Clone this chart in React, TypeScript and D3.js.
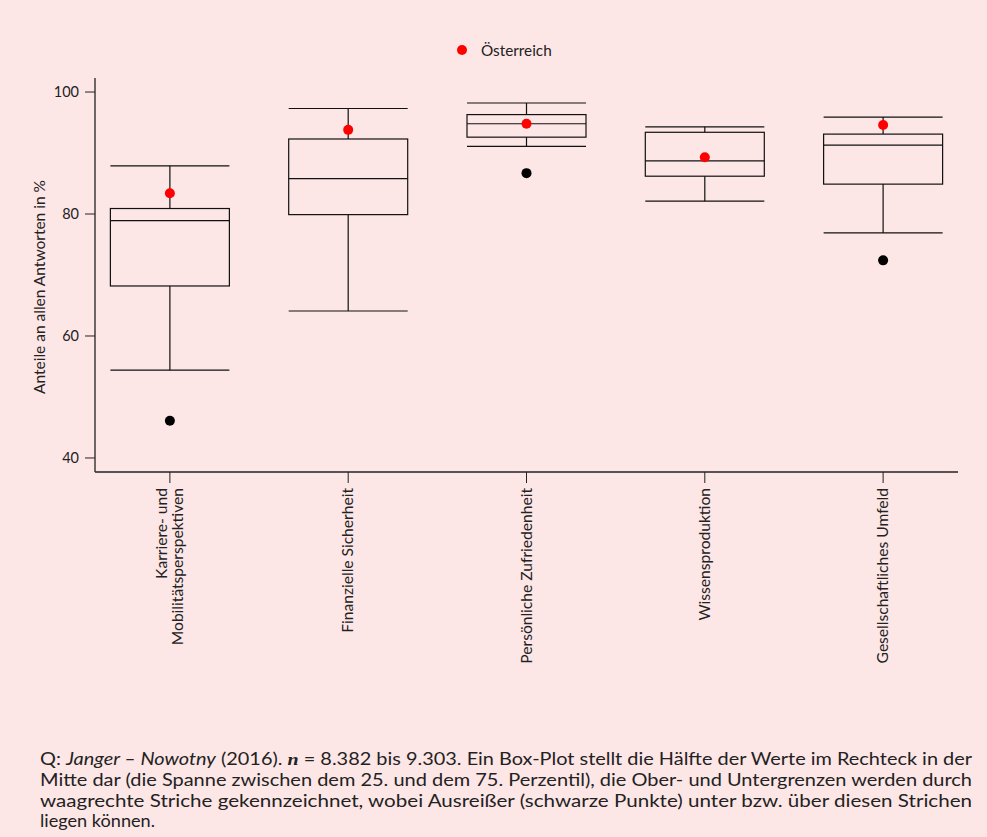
import React from "react";
import * as d3 from "d3";

// Categories (line breaks split multi-line axis labels)
const categories = [
  "Karriere- und\nMobilitätsperspektiven",
  "Finanzielle Sicherheit",
  "Persönliche Zufriedenheit",
  "Wissensproduktion",
  "Gesellschaftliches Umfeld",
];

// Box-plot statistics per category (share in %)
const lowerWhisker = [54.4, 64.1, 91.1, 82.1, 76.9];
const q1 = [68.2, 79.9, 92.6, 86.2, 84.9];
const median = [78.9, 85.8, 94.8, 88.7, 91.3];
const q3 = [80.9, 92.3, 96.3, 93.4, 93.1];
const upperWhisker = [87.9, 97.3, 98.2, 94.3, 95.9];

// Outliers (category index, value)
const outlierCat = [0, 2, 4];
const outlierVal = [46.1, 86.7, 72.4];

// Austria values
const austria = [83.4, 93.8, 94.8, 89.3, 94.6];

const yTicks = [40, 60, 80, 100];

const W = 987;
const H = 837;
const BG = "#fde6e6";
const INK = "#222";
const FONT = "Lato, 'DejaVu Sans', sans-serif";

const footLines = [
  null, // first line is built with mixed styles below
  "Mitte dar (die Spanne zwischen dem 25. und dem 75. Perzentil), die Ober- und Untergrenzen werden durch",
  "waagrechte Striche gekennzeichnet, wobei Ausreißer (schwarze Punkte) unter bzw. über diesen Strichen",
  "liegen können.",
];

export default function App() {
  const x = d3.scalePoint<string>().domain(categories).range([95, 958]).padding(0.42);
  const y = d3.scaleLinear().domain([37.7, 102.3]).range([472, 78]);
  const half = 59.5;

  return (
    <svg
      width={W}
      height={H}
      style={{ position: "absolute", left: 0, top: 0, background: BG }}
      fontFamily={FONT}
    >
      <rect x={0} y={0} width={W} height={H} fill={BG} />

      {/* legend */}
      <circle cx={462} cy={50} r={5} fill="#ff0000" />
      <text x={481} y={55.5} fontSize={15.3} fill={INK}>Österreich</text>

      {/* y axis */}
      <line x1={95} x2={95} y1={78} y2={472} stroke={INK} strokeWidth={1.3} />
      {yTicks.map((t) => (
        <g key={t}>
          <line x1={85} x2={95} y1={y(t)} y2={y(t)} stroke={INK} strokeWidth={1} />
          <text x={79} y={y(t)} dy="0.36em" textAnchor="end" fontSize={14.5} fill={INK}>
            {t}
          </text>
        </g>
      ))}
      <text
        transform={`translate(45,${287}) rotate(-90)`}
        textAnchor="middle"
        fontSize={15.5}
        fill={INK}
      >
        Anteile an allen Antworten in %
      </text>

      {/* x axis */}
      <line x1={95} x2={958} y1={472} y2={472} stroke={INK} strokeWidth={1.3} />
      {categories.map((c) => {
        const cx = x(c)!;
        const lines = c.split("\n");
        const n = lines.length;
        return (
          <g key={c}>
            <line x1={cx} x2={cx} y1={472} y2={483} stroke={INK} strokeWidth={1} />
            {lines.map((ln, i) => (
              <text
                key={i}
                transform={`translate(${cx + 5 + (i - (n - 1) / 2) * 15.5},488) rotate(-90)`}
                textAnchor="end"
                fontSize={15.6}
                fill={INK}
              >
                {ln}
              </text>
            ))}
          </g>
        );
      })}

      {/* boxes */}
      {categories.map((c, i) => {
        const cx = x(c)!;
        return (
          <g key={c} stroke="#111" strokeWidth={1.2} fill="none">
            <line x1={cx} x2={cx} y1={y(upperWhisker[i])} y2={y(q3[i])} />
            <line x1={cx} x2={cx} y1={y(q1[i])} y2={y(lowerWhisker[i])} />
            <line x1={cx - half} x2={cx + half} y1={y(upperWhisker[i])} y2={y(upperWhisker[i])} />
            <line x1={cx - half} x2={cx + half} y1={y(lowerWhisker[i])} y2={y(lowerWhisker[i])} />
            <rect x={cx - half} y={y(q3[i])} width={2 * half} height={y(q1[i]) - y(q3[i])} />
            <line x1={cx - half} x2={cx + half} y1={y(median[i])} y2={y(median[i])} />
          </g>
        );
      })}

      {/* outliers */}
      {outlierVal.map((v, k) => (
        <circle key={k} cx={x(categories[outlierCat[k]])!} cy={y(v)} r={5} fill="#000" />
      ))}

      {/* Austria */}
      {austria.map((v, i) => (
        <circle key={i} cx={x(categories[i])!} cy={y(v)} r={5} fill="#ff0000" />
      ))}

      {/* source note */}
      <g fontSize={16.5} fill={INK}>
        <text x={40} y={765} textLength={932} lengthAdjust="spacingAndGlyphs">
          <tspan>Q: </tspan>
          <tspan fontStyle="italic">Janger – Nowotny</tspan>
          <tspan> (2016). </tspan>
          <tspan fontStyle="italic" fontWeight="bold" fontFamily="'Liberation Serif', serif">n</tspan>
          <tspan> = 8.382 bis 9.303. Ein Box-Plot stellt die Hälfte der Werte im Rechteck in der</tspan>
        </text>
        <text x={40} y={786} textLength={932} lengthAdjust="spacingAndGlyphs">{footLines[1]}</text>
        <text x={40} y={806.5} textLength={932} lengthAdjust="spacingAndGlyphs">{footLines[2]}</text>
        <text x={40} y={827} textLength={115} lengthAdjust="spacingAndGlyphs">{footLines[3]}</text>
      </g>
    </svg>
  );
}
